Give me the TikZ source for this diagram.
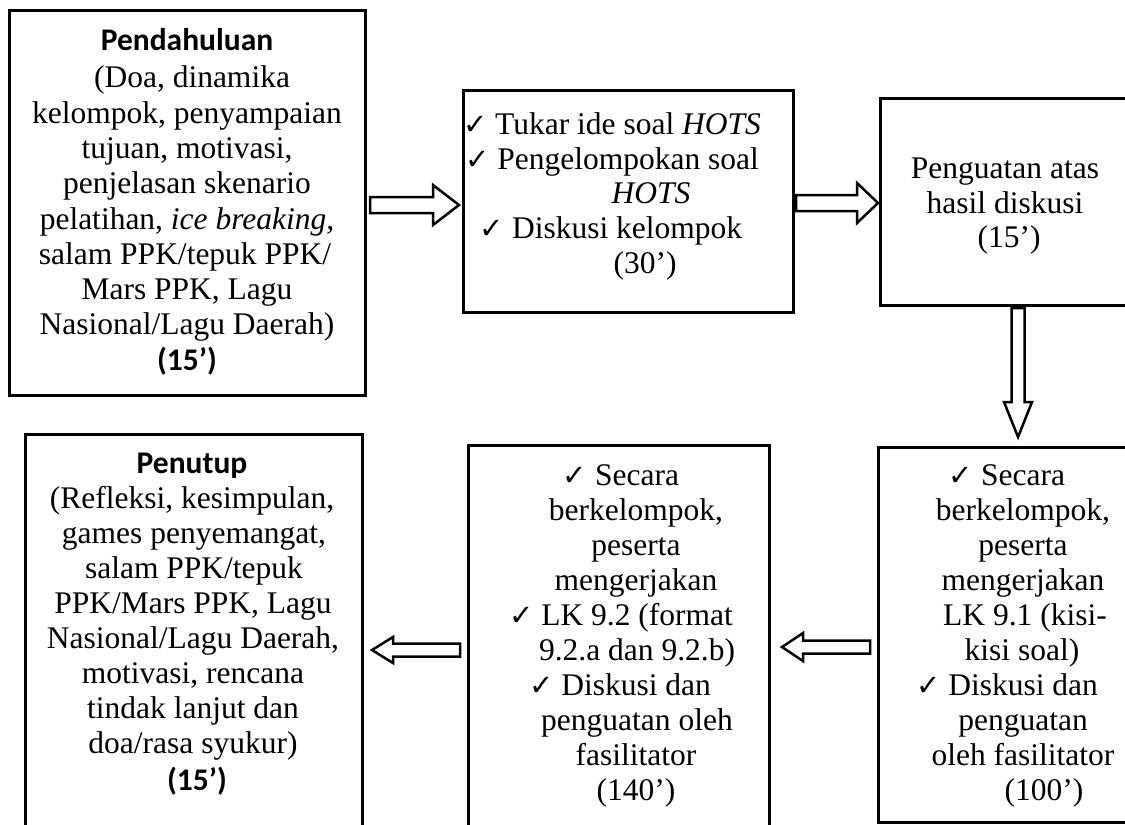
\documentclass[tikz,border=0pt]{standalone}
\usepackage{fontspec}
\setmainfont{Liberation Serif}
\newfontfamily\hdfont{Carlito}
\newfontfamily\chkfont{DejaVu Sans}
\usetikzlibrary{calc}
\newcommand{\chk}{{\chkfont\fontsize{29}{29}\selectfont ✓}}
% horizontal block arrow: tail, head base, tip, shaft half, head half
\newcommand{\hblock}[5]{%
  \draw[blockarrow] let \p1=(#1),\p2=(#2),\p3=(#3) in
    (\x1,{\y1+#4}) -- (\x2,{\y1+#4}) -- (\x2,{\y1+#5}) -- (\x3,\y1)
    -- (\x2,{\y1-#5}) -- (\x2,{\y1-#4}) -- (\x1,{\y1-#4}) -- cycle;}
% vertical block arrow
\newcommand{\vblock}[5]{%
  \draw[blockarrow] let \p1=(#1),\p2=(#2),\p3=(#3) in
    ({\x1+#4},\y1) -- ({\x1+#4},\y2) -- ({\x1+#5},\y2) -- (\x1,\y3)
    -- ({\x1-#5},\y2) -- ({\x1-#4},\y2) -- ({\x1-#4},\y1) -- cycle;}
\begin{document}
\begin{tikzpicture}[x=1pt,y=-1pt,
  box/.style={draw, line width=3pt, inner sep=0pt, rectangle},
  tl/.style={anchor=base, inner sep=0pt, font=\fontsize{31.5}{35}\selectfont},
  hd/.style={anchor=base, inner sep=0pt, font=\hdfont\bfseries\fontsize{31.5}{35}\selectfont},
  blockarrow/.style={draw, fill=white, line width=2.5pt, line join=miter}]
\useasboundingbox (0,0) rectangle (1125,825);
\clip (0,0) rectangle (1125,825);

% boxes
\node[box, minimum width=356pt, minimum height=385pt] (b1) at (187,202.5) {};
\node[box, minimum width=330pt, minimum height=222pt] (b2) at (628,201) {};
\node[box, minimum width=252pt, minimum height=207pt] (b3) at (1006,201.5) {};
\node[box, minimum width=290pt, minimum height=375pt] (b4) at (1023,634.5) {};
\node[box, minimum width=301pt, minimum height=420pt] (b5) at (618.5,655) {};
\node[box, minimum width=337pt, minimum height=430pt] (b6) at (193.5,649) {};

% box 1 text
\node[hd] (t1a) at (187,50) {Pendahuluan};
\node[tl] (t1b) at (192,87) {(Doa, dinamika};
\node[tl] (t1c) at (187,123) {kelompok, penyampaian};
\node[tl] (t1d) at (187,158) {tujuan, motivasi,};
\node[tl] (t1e) at (187,193) {penjelasan skenario};
\node[tl] (t1f) at (187,229) {pelatihan, \textit{ice breaking,}};
\node[tl] (t1g) at (185,264) {salam PPK/tepuk PPK/};
\node[tl] (t1h) at (187,299) {Mars PPK, Lagu};
\node[tl] (t1i) at (187,334) {Nasional/Lagu Daerah)};
\node[hd] (t1j) at (187,370) {(15’)};

% box 2 text
\node[tl] (t2a) at (612,134) {\chk\ Tukar ide soal \textit{HOTS}};
\node[tl] (t2b) at (612,169) {\chk\ Pengelompokan soal};
\node[tl] (t2c) at (651,203) {\textit{HOTS}};
\node[tl] (t2d) at (611,238) {\chk\ Diskusi kelompok};
\node[tl] (t2e) at (645,273) {(30’)};

% box 3 text
\node[tl] (t3a) at (1005,178) {Penguatan atas};
\node[tl] (t3b) at (1005,213) {hasil diskusi};
\node[tl] (t3c) at (1009,247) {(15’)};

% box 4 text
\node[tl] (t4a) at (1007,485) {\chk\ Secara};
\node[tl] (t4b) at (1023,520) {berkelompok,};
\node[tl] (t4c) at (1023,555) {peserta};
\node[tl] (t4d) at (1023,590) {mengerjakan};
\node[tl] (t4e) at (1025,625) {LK 9.1 (kisi-};
\node[tl] (t4f) at (1022,660) {kisi soal)};
\node[tl] (t4g) at (1007,695) {\chk\ Diskusi dan};
\node[tl] (t4h) at (1023,730) {penguatan};
\node[tl] (t4i) at (1023,765) {oleh fasilitator};
\node[tl] (t4j) at (1044,800) {(100’)};

% box 5 text
\node[tl] (t5a) at (621,485) {\chk\ Secara};
\node[tl] (t5b) at (636,520) {berkelompok,};
\node[tl] (t5c) at (636,555) {peserta};
\node[tl] (t5d) at (636,590) {mengerjakan};
\node[tl] (t5e) at (621,625) {\chk\ LK 9.2 (format};
\node[tl] (t5f) at (637,660) {9.2.a dan 9.2.b)};
\node[tl] (t5g) at (620,695) {\chk\ Diskusi dan};
\node[tl] (t5h) at (637,730) {penguatan oleh};
\node[tl] (t5i) at (636,765) {fasilitator};
\node[tl] (t5j) at (636,800) {(140’)};

% box 6 text
\node[hd] (t6a) at (192,473) {Penutup};
\node[tl] (t6b) at (192,508) {(Refleksi, kesimpulan,};
\node[tl] (t6c) at (194,543) {games penyemangat,};
\node[tl] (t6d) at (194,578) {salam PPK/tepuk};
\node[tl] (t6e) at (193,613) {PPK/Mars PPK, Lagu};
\node[tl] (t6f) at (193,648) {Nasional/Lagu Daerah,};
\node[tl] (t6g) at (193,683) {motivasi, rencana};
\node[tl] (t6h) at (193,718) {tindak lanjut dan};
\node[tl] (t6i) at (193,753) {doa/rasa syukur)};
\node[hd] (t6j) at (197,790) {(15’)};

% arrow end points
\coordinate (a1t) at (370,205); \coordinate (a1b) at (433,205); \coordinate (a1h) at (459,205);
\coordinate (a2t) at (796,203); \coordinate (a2b) at (857,203); \coordinate (a2h) at (878,203);
\coordinate (a3t) at (1018,308); \coordinate (a3b) at (402,402); \coordinate (a3h) at (1018,437);
\coordinate (a4t) at (870,647); \coordinate (a4b) at (803,647); \coordinate (a4h) at (782,647);
\coordinate (a5t) at (460,650); \coordinate (a5b) at (393,650); \coordinate (a5h) at (372,650);

\hblock{a1t}{a1b}{a1h}{8pt}{20pt}
\hblock{a2t}{a2b}{a2h}{8pt}{20pt}
\vblock{a3t}{a3b}{a3h}{6.5pt}{14pt}
\hblock{a4t}{a4b}{a4h}{6.5pt}{14pt}
\hblock{a5t}{a5b}{a5h}{6.5pt}{13pt}
\end{tikzpicture}
\end{document}
